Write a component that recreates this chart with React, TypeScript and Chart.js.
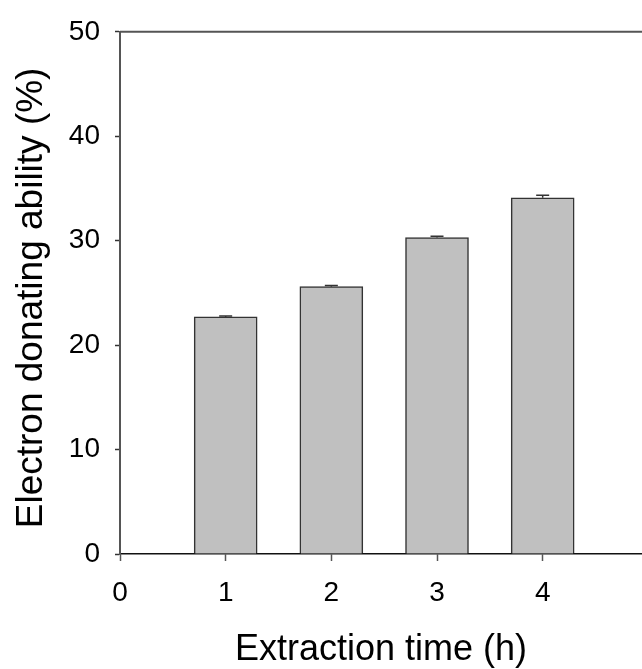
import React, { useEffect, useRef } from "react";
import { Chart, registerables } from "chart.js";

Chart.register(...registerables);

const extractionTimes = [1, 2, 3, 4];
const electronDonating = [22.7, 25.6, 30.3, 34.1];
const errorValues = [0.1, 0.1, 0.12, 0.25];
const xTickValues = [0, 1, 2, 3, 4];
const yTickValues = [0, 10, 20, 30, 40, 50];
const xTitle = "Extraction time (h)";
const yTitle = "Electron donating ability (%)";

const FONT = "'Liberation Sans', Arial, Helvetica, sans-serif";

const overlayPlugin = {
  id: "overlay",
  afterDatasetsDraw(chart: any) {
    const ctx = chart.ctx;
    const { left, right, top } = chart.chartArea;
    const xs = chart.scales.x;
    const ys = chart.scales.y;
    ctx.save();
    // top frame line
    ctx.strokeStyle = "#555";
    ctx.lineWidth = 2;
    ctx.beginPath();
    ctx.moveTo(left, top);
    ctx.lineTo(right, top);
    ctx.stroke();
    // error bars (upper only)
    ctx.strokeStyle = "#333";
    ctx.lineWidth = 1.5;
    extractionTimes.forEach((t, i) => {
      const px = xs.getPixelForValue(t);
      const y0 = ys.getPixelForValue(electronDonating[i]);
      const y1 = ys.getPixelForValue(electronDonating[i] + errorValues[i]);
      ctx.beginPath();
      ctx.moveTo(px, y0);
      ctx.lineTo(px, y1);
      ctx.moveTo(px - 6.5, y1);
      ctx.lineTo(px + 6.5, y1);
      ctx.stroke();
    });
    ctx.restore();
  },
  afterDraw(chart: any) {
    const ctx = chart.ctx;
    const { left, right, top, bottom } = chart.chartArea;
    ctx.save();
    ctx.fillStyle = "#000";
    ctx.font = `36px ${FONT}`;
    ctx.textAlign = "center";
    ctx.textBaseline = "alphabetic";
    ctx.fillText(xTitle, (left + right) / 2, 660);
    ctx.font = `37px ${FONT}`;
    ctx.translate(42, (top + bottom) / 2 + 5);
    ctx.rotate(-Math.PI / 2);
    ctx.fillText(yTitle, 0, 0);
    ctx.restore();
  },
};

export default function App() {
  const ref = useRef<HTMLCanvasElement>(null);
  useEffect(() => {
    if (!ref.current) return;
    const chart = new Chart(ref.current, {
      type: "bar",
      data: {
        datasets: [
          {
            data: extractionTimes.map((t, i) => ({ x: t, y: electronDonating[i] })),
            backgroundColor: "#c0c0c0",
            borderColor: "#333",
            borderWidth: 1.5,
            barThickness: 63,
          },
        ],
      },
      options: {
        animation: false,
        responsive: false,
        layout: { padding: { top: 27.5, right: 0, left: 0, bottom: 0 } },
        plugins: { legend: { display: false }, tooltip: { enabled: false } },
        scales: {
          x: {
            type: "linear",
            min: 0,
            max: 4.94,
            offset: false,
            afterBuildTicks: (scale: any) => {
              scale.ticks = xTickValues.map((v) => ({ value: v }));
            },
            afterFit: (scale: any) => {
              scale.height = 115;
            },
            grid: {
              offset: false,
              drawOnChartArea: false,
              drawTicks: true,
              tickLength: 7,
              tickColor: "#555",
              tickWidth: 1.5,
            },
            border: { display: true, color: "#111", width: 1.5 },
            ticks: {
              color: "#000",
              font: { family: FONT, size: 28 },
              padding: 15,
              maxRotation: 0,
              autoSkip: false,
            },
          },
          y: {
            min: 0,
            max: 50,
            afterBuildTicks: (scale: any) => {
              scale.ticks = yTickValues.map((v) => ({ value: v }));
            },
            afterFit: (scale: any) => {
              scale.width = 120;
            },
            grid: {
              drawOnChartArea: false,
              drawTicks: true,
              tickLength: 5,
              tickColor: "#333",
              tickWidth: 1.5,
            },
            border: { display: true, color: "#555", width: 2 },
            ticks: {
              color: "#000",
              font: { family: FONT, size: 28 },
              padding: 15,
              autoSkip: false,
            },
          },
        },
      },
      plugins: [overlayPlugin],
    });
    return () => chart.destroy();
  }, []);
  return (
    <div style={{ position: "absolute", left: 0, top: 0, width: 642, height: 669, background: "#fff" }}>
      <canvas ref={ref} width={642} height={669} />
    </div>
  );
}
